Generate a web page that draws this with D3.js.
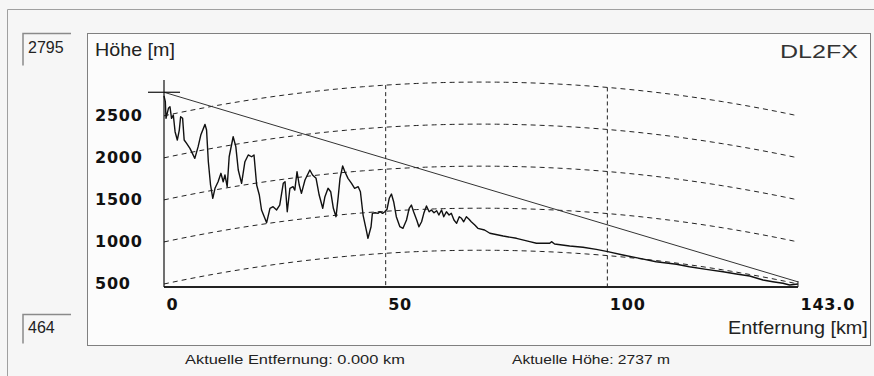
<!DOCTYPE html>
<html>
<head>
<meta charset="utf-8">
<script src="https://cdn.jsdelivr.net/npm/d3@7"></script>
<style>
  body { margin: 0; background: #f6f6f6; }
  svg { display: block; }
</style>
</head>
<body>
<div class="chart"></div>
<script>
let width = 874;
let height = 376;

// Gelaendeprofil: Entfernung [km] und Hoehe [m]
let profileKm = [0, 0.3, 0.45, 1.0, 1.35, 1.7, 2.1, 2.5, 3.0, 3.45, 3.75, 4.2, 4.55, 5.1, 5.85, 6.95, 7.7, 8.3, 9.25, 9.6,
  10.0, 10.5, 11.0, 11.5, 12.2, 12.85, 13.35, 13.75, 14.25, 14.7, 15.6, 16.2, 16.75, 17.5, 18.25, 19.0, 19.75, 20.3, 20.9, 21.5,
  22.0, 23.15, 23.9, 24.6, 25.4, 26.1, 26.9, 27.3, 27.8, 28.4, 29.1, 29.5, 30.0, 30.5, 31.0, 31.8, 32.9, 33.5, 34.3, 35.0,
  35.8, 36.3, 37.0, 37.6, 38.2, 38.8, 39.3, 39.7, 40.3, 40.8, 41.5, 42.3, 43.0, 43.8, 44.3, 44.9, 45.7, 46.0, 46.7, 47.0,
  47.6, 48.3, 48.7, 49.3, 49.8, 50.3, 50.8, 51.3, 51.8, 52.4, 53.2, 53.9, 54.7, 55.3, 55.8, 56.3, 57.0, 57.5, 58.1, 58.6,
  59.2, 59.8, 60.3, 60.9, 61.5, 62.0, 62.6, 63.1, 63.7, 64.3, 64.8, 65.4, 66.0, 66.6, 67.1, 67.6, 68.2, 68.8, 69.3, 70.1,
  70.8, 72.3, 73.5, 76.5, 79.5, 82.5, 84.0, 87.0, 87.4, 88.1, 91.5, 94.5, 97.5, 100.1, 103.5, 107.3, 111.0, 115.6, 118.5, 122.3,
  126.1, 129.1, 132.1, 135.1, 137.3, 139.6, 141.1, 143.0];
let profileM = [2737, 2667, 2470, 2589, 2608, 2470, 2509, 2311, 2212, 2331, 2489, 2470, 2212, 2172, 2113, 1994, 2133, 2271, 2398, 2331,
  1954, 1677, 1519, 1638, 1716, 1816, 1716, 1796, 1657, 2013, 2251, 2133, 1855, 1697, 1954, 2034, 2013, 2034, 1677, 1558,
  1380, 1229, 1400, 1419, 1380, 1439, 1697, 1716, 1359, 1638, 1657, 1617, 1835, 1677, 1578, 1736, 1855, 1796, 1756, 1558,
  1400, 1538, 1638, 1597, 1400, 1300, 1538, 1756, 1903, 1835, 1756, 1697, 1638, 1657, 1597, 1320, 1122, 1043, 1181, 1340,
  1347, 1340, 1359, 1340, 1359, 1388, 1519, 1570, 1478, 1300, 1181, 1162, 1261, 1400, 1439, 1359, 1261, 1181, 1240, 1340,
  1427, 1359, 1380, 1347, 1371, 1320, 1380, 1300, 1359, 1320, 1340, 1261, 1221, 1300, 1281, 1240, 1300, 1269, 1240, 1201,
  1162, 1142, 1103, 1070, 1043, 1003, 984, 984, 1003, 975, 952, 936, 912, 884, 845, 805, 765, 734, 705, 674,
  646, 619, 595, 547, 527, 508, 488, 500];

// Sichtlinie (Start- und Endpunkt)
let sightKm = [0, 143];
let sightM = [2780, 525];

let yTicks = [500, 1000, 1500, 2000, 2500];
let xTicks = [0, 50, 100, 143];
let xTickLabels = ['0', '50', '100', '143.0'];
let curveLevels = [500, 1000, 1500, 2000, 2500];
let gridKm = [50, 100];
let hMin = 464;
let hMax = 2795;
let distMax = 143;
let earthRadiusKm = 6371;

let svg = d3.select('.chart')
            .append('svg')
            .attr('width', width)
            .attr('height', height);

let xScale = d3.scaleLinear()
               .domain([0, distMax])
               .range([164, 798]);
let yScale = d3.scaleLinear()
               .domain([hMin, hMax])
               .range([287, 91]);

// Rahmen
svg.append('path')
   .attr('d', 'M7.5,' + height + 'V9.5H' + width)
   .attr('fill', 'none')
   .attr('stroke', '#a0a0a0');
svg.append('rect')
   .attr('x', 87.5).attr('y', 33.5)
   .attr('width', 783).attr('height', 312)
   .attr('fill', '#fcfcfc')
   .attr('stroke', '#808080');

// Text, horizontal auf die Breite im Bild gestreckt
function label(x, y, txt, size, len) {
  let t = svg.append('text')
             .style('font-family', 'Liberation Sans, Arial, sans-serif')
             .style('font-size', size + 'px')
             .attr('fill', '#222')
             .text(txt);
  let s = len ? len / t.node().getComputedTextLength() : 1;
  t.attr('transform', 'translate(' + x + ',' + y + ') scale(' + s + ',1)');
  return t;
}

// Min/Max-Felder
function valueBox(y, h, txt, base) {
  svg.append('path')
     .attr('d', 'M23,' + (y + h) + 'V' + y + 'H71')
     .attr('fill', 'none')
     .attr('stroke', '#8a8a8a')
     .attr('stroke-width', 1.5);
  label(28, base, txt, 16);
}
valueBox(33.5, 32, String(hMax), 53);
valueBox(314.5, 29, String(hMin), 333);

// Erdkruemmungslinien
let bulge = d => d * (distMax - d) / (2 * earthRadiusKm) * 1000;
let kmSteps = d3.range(0, distMax + 0.5, 1);
let curveLine = d3.line()
                  .x(d => xScale(d[0]))
                  .y(d => yScale(d[1]));
curveLevels.forEach(level => {
  svg.append('path')
     .datum(kmSteps.map(d => [d, level + bulge(d)]))
     .attr('d', curveLine)
     .attr('fill', 'none')
     .attr('stroke', '#222')
     .attr('stroke-width', 1)
     .attr('stroke-dasharray', '5,4');
});

// senkrechte Gitterlinien
let topLevel = curveLevels[curveLevels.length - 1];
svg.selectAll('.vgrid')
   .data(gridKm)
   .enter()
   .append('line')
   .attr('class', 'vgrid')
   .attr('x1', d => xScale(d)).attr('x2', d => xScale(d))
   .attr('y1', d => yScale(topLevel + bulge(d)))
   .attr('y2', yScale(hMin))
   .attr('stroke', '#222')
   .attr('stroke-dasharray', '4,3');

// Sichtlinie
svg.append('line')
   .attr('x1', xScale(sightKm[0])).attr('y1', yScale(sightM[0]))
   .attr('x2', xScale(sightKm[1])).attr('y2', yScale(sightM[1]))
   .attr('stroke', '#333')
   .attr('stroke-width', 1);

// Profil
let profile = profileKm.map((d, i) => [d, profileM[i]]);
svg.append('path')
   .datum(profile)
   .attr('d', curveLine)
   .attr('fill', 'none')
   .attr('stroke', '#111')
   .attr('stroke-width', 1.4)
   .attr('stroke-linejoin', 'round');

// Achsen
let yAxis = d3.axisLeft(yScale)
              .tickValues(yTicks)
              .tickSize(0)
              .tickFormat(d3.format('d'));
let yG = svg.append('g')
            .attr('transform', 'translate(164,0)')
            .call(yAxis);
yG.select('.domain').remove();
yG.selectAll('text')
  .attr('x', -69)
  .attr('dy', '0.3em')
  .attr('text-anchor', 'start')
  .style('font-family', 'DejaVu Sans, sans-serif')
  .style('font-weight', 'bold')
  .style('font-size', '16px')
  .style('letter-spacing', '0.8px')
  .attr('fill', '#111');

let xAxis = d3.axisBottom(xScale)
              .tickValues(xTicks)
              .tickSize(0)
              .tickFormat((d, i) => xTickLabels[i]);
let xG = svg.append('g')
            .attr('transform', 'translate(0,' + yScale(hMin) + ')')
            .call(xAxis);
xG.select('.domain').remove();
xG.selectAll('text')
  .attr('x', 2)
  .attr('y', 17)
  .attr('dy', '0.35em')
  .attr('text-anchor', 'start')
  .style('font-family', 'DejaVu Sans, sans-serif')
  .style('font-weight', 'bold')
  .style('font-size', '16px')
  .style('letter-spacing', '0.8px')
  .attr('fill', '#111');

svg.append('line')
   .attr('x1', xScale(0)).attr('x2', xScale(distMax))
   .attr('y1', yScale(hMin)).attr('y2', yScale(hMin))
   .attr('stroke', '#222')
   .attr('stroke-width', 2);
svg.append('line')
   .attr('x1', xScale(0)).attr('x2', xScale(0))
   .attr('y1', 80).attr('y2', yScale(hMin))
   .attr('stroke', '#111')
   .attr('stroke-width', 1.2);
svg.append('line')
   .attr('x1', xScale(distMax)).attr('x2', xScale(distMax))
   .attr('y1', yScale(hMin) - 6).attr('y2', yScale(hMin))
   .attr('stroke', '#222');

// Fadenkreuz am Standort
svg.append('line')
   .attr('x1', xScale(0) - 16).attr('x2', xScale(0) + 16)
   .attr('y1', yScale(sightM[0])).attr('y2', yScale(sightM[0]))
   .attr('stroke', '#111')
   .attr('stroke-width', 1.2);

// Beschriftungen
label(95, 56, 'Höhe [m]', 19, 80);
label(780, 58, 'DL2FX', 19, 78).attr('fill', '#333');
label(728, 334, 'Entfernung [km]', 18, 140);
label(185, 364, 'Aktuelle Entfernung: 0.000 km', 13, 220);
label(512, 364, 'Aktuelle Höhe: 2737 m', 13, 158);
</script>
</body>
</html>
